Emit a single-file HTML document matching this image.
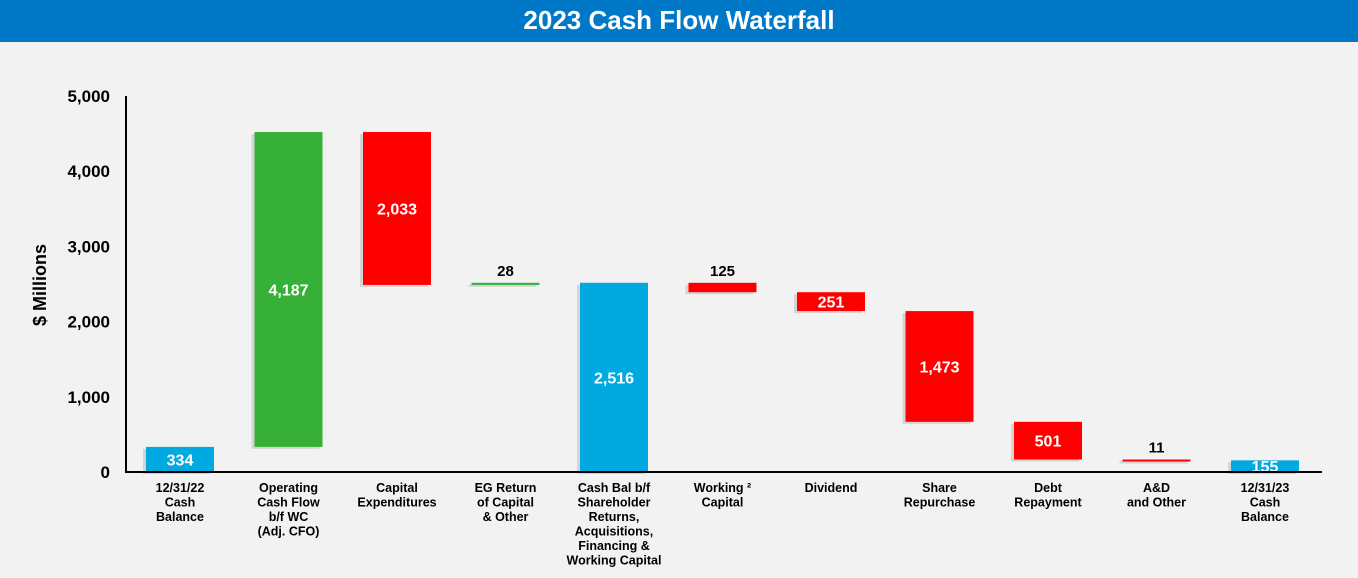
<!DOCTYPE html>
<html><head><meta charset="utf-8"><style>
body{margin:0;width:1358px;height:578px;background:#f2f2f2;font-family:"Liberation Sans",Arial,sans-serif;overflow:hidden}
#title{position:absolute;left:0;top:0;width:1358px;height:42px;background:#0078c8;color:#fff;font-weight:bold;font-size:26px;text-align:center;line-height:40px}
</style></head><body>
<div id="title">2023 Cash Flow Waterfall</div>
<svg id="chart" width="1358" height="578" style="position:absolute;left:0;top:0"></svg>
<script>
const categories=[["12/31/22","Cash","Balance"],["Operating","Cash Flow","b/f WC","(Adj. CFO)"],["Capital","Expenditures"],["EG Return","of Capital","& Other"],["Cash Bal b/f","Shareholder","Returns,","Acquisitions,","Financing &","Working Capital"],["Working ²","Capital"],["Dividend"],["Share","Repurchase"],["Debt","Repayment"],["A&D","and Other"],["12/31/23","Cash","Balance"]];
const values=[334,4187,-2033,28,2516,-125,-251,-1473,-501,-11,155];
const kinds=["total","inc","dec","inc","total","dec","dec","dec","dec","dec","total"];
const labels=["334","4,187","2,033","28","2,516","125","251","1,473","501","11","155"];
const ticks=[0,1000,2000,3000,4000,5000];
const tickLabels=["0","1,000","2,000","3,000","4,000","5,000"];
const NS="http://www.w3.org/2000/svg";
const svg=document.getElementById('chart');
const y0=472,yTop=96,vMax=5000;
const y=v=>y0-v*(y0-yTop)/vMax;
const x=i=>180+i*108.5;
const bw=68;
function mk(t,a){const e=document.createElementNS(NS,t);for(const k in a)e.setAttribute(k,a[k]);svg.appendChild(e);return e;}
const colors={total:"#00a9e0",inc:"#36b037",dec:"#ff0000"};
let run=0;
values.forEach((v,i)=>{
  let lo,hi;
  if(kinds[i]==="total"){lo=0;hi=v;run=v;}
  else{const s=run;run=s+v;lo=Math.min(s,run);hi=Math.max(s,run);}
  const h=Math.max(y(lo)-y(hi),2);
  const sh=mk('rect',{x:x(i)-bw/2-3,y:y(hi)+2,width:bw,height:h,fill:"#000",opacity:0.12});
  
  
  const r=mk('rect',{x:x(i)-bw/2,y:y(hi),width:bw,height:h,fill:colors[kinds[i]]});
  
  
  const inside=(y(lo)-y(hi))>10;
  const cy=Math.min((y(hi)+y(lo))/2+6, y0+1);
  const t=mk('text',{x:x(i),y:inside?cy:y(hi)-7,"text-anchor":"middle","font-weight":"bold","font-size":inside?16:15,fill:inside?"#fff":"#000"});
  t.textContent=labels[i];
  
  
  categories[i].forEach((ln,j)=>{
    const c=mk('text',{x:x(i),y:492+j*14.5,"text-anchor":"middle","font-weight":"bold","font-size":12.5,fill:"#000"});
    c.textContent=ln;
    
    
  });
});
ticks.forEach((v,i)=>{
  const t=mk('text',{x:110,y:y(v)+6,"text-anchor":"end","font-weight":"bold","font-size":17,fill:"#000"});
  t.textContent=tickLabels[i];
  
  
});
const ya=mk('line',{x1:126,y1:yTop,x2:126,y2:y0+1,stroke:"#000","stroke-width":2});


const xa=mk('line',{x1:125,y1:y0,x2:1322,y2:y0,stroke:"#000","stroke-width":2});


const yt=mk('text',{x:46,y:285,"text-anchor":"middle","font-weight":"bold","font-size":18,fill:"#000",transform:"rotate(-90 46 285)"});
yt.textContent="$ Millions";


</script>
</body></html>
